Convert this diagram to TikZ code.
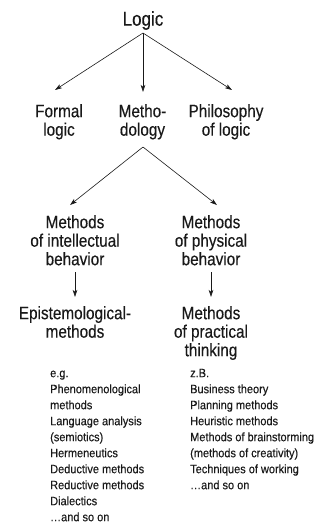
\documentclass[tikz,border=0pt]{standalone}
\usepackage{fontspec}
\setmainfont{Liberation Sans}[FakeStretch=0.85,FakeBold=0.3]
\newfontfamily\listfont{Liberation Sans}[FakeStretch=0.9,FakeBold=0.25]
\usetikzlibrary{arrows.meta}
\tikzset{
  x=1pt, y=1pt,
  ink/.style={black!90},
  conn/.style={ink, line width=0.6pt, -{Stealth[length=7pt,width=4.5pt,inset=1.8pt]}},
  big/.style={ink, inner sep=0pt, align=center, anchor=north, font=\fontsize{18}{18.5}\selectfont},
  listbox/.style={ink, inner sep=0pt, align=left, anchor=north west, font=\listfont\fontsize{12.2}{16}\selectfont},
}
\newcommand{\fstrut}{\rule{0pt}{14pt}}
\newcommand{\lstrut}{\rule{0pt}{10pt}}
\begin{document}
\begin{tikzpicture}
\useasboundingbox (0,0) rectangle (323,-528);
% top
\node[ink, inner sep=0pt, anchor=base, font=\fontsize{20}{22}\selectfont] (logic) at (143,-25.7) {Logic};
\coordinate (logicb) at (143,-33);
\node[big] (formal) at (59,-103) {\fstrut Formal\\logic};
\node[big] (meth) at (142.5,-103) {\fstrut Metho-\\dology};
\node[big] (phil) at (226,-103) {\fstrut Philosophy\\of logic};
\coordinate (formalt) at (55,-90);
\coordinate (metht) at (143,-92);
\coordinate (philt) at (232,-90);
\draw[conn] (logicb) -- (formalt);
\draw[conn] (logicb) -- (metht);
\draw[conn] (logicb) -- (philt);
% second level
\coordinate (methb) at (143,-147);
\node[big] (intel) at (75,-214) {\fstrut Methods\\of intellectual\\behavior};
\node[big] (phys) at (211,-214) {\fstrut Methods\\of physical\\behavior};
\coordinate (intelt) at (70,-205);
\coordinate (physt) at (217,-205);
\draw[conn] (methb) -- (intelt);
\draw[conn] (methb) -- (physt);
% third level
\node[big] (epist) at (75,-305) {\fstrut Epistemological-\\methods};
\node[big] (pract) at (211,-305) {\fstrut Methods\\of practical\\thinking};
\coordinate (intelb) at (75,-272);
\coordinate (epistt) at (75,-297);
\coordinate (physb) at (211,-272);
\coordinate (practt) at (211,-297);
\draw[conn] (intelb) -- (epistt);
\draw[conn] (physb) -- (practt);
% lists
\node[listbox] (leftlist) at (50,-367) {\lstrut e.g.\\Phenomenological\\methods\\Language analysis\\(semiotics)\\Hermeneutics\\Deductive methods\\Reductive methods\\Dialectics\\…and so on};
\node[listbox] (rightlist) at (190,-367) {\lstrut z.B.\\Business theory\\Planning methods\\Heuristic methods\\Methods of brainstorming\\(methods of creativity)\\Techniques of working\\…and so on};
\end{tikzpicture}
\end{document}
